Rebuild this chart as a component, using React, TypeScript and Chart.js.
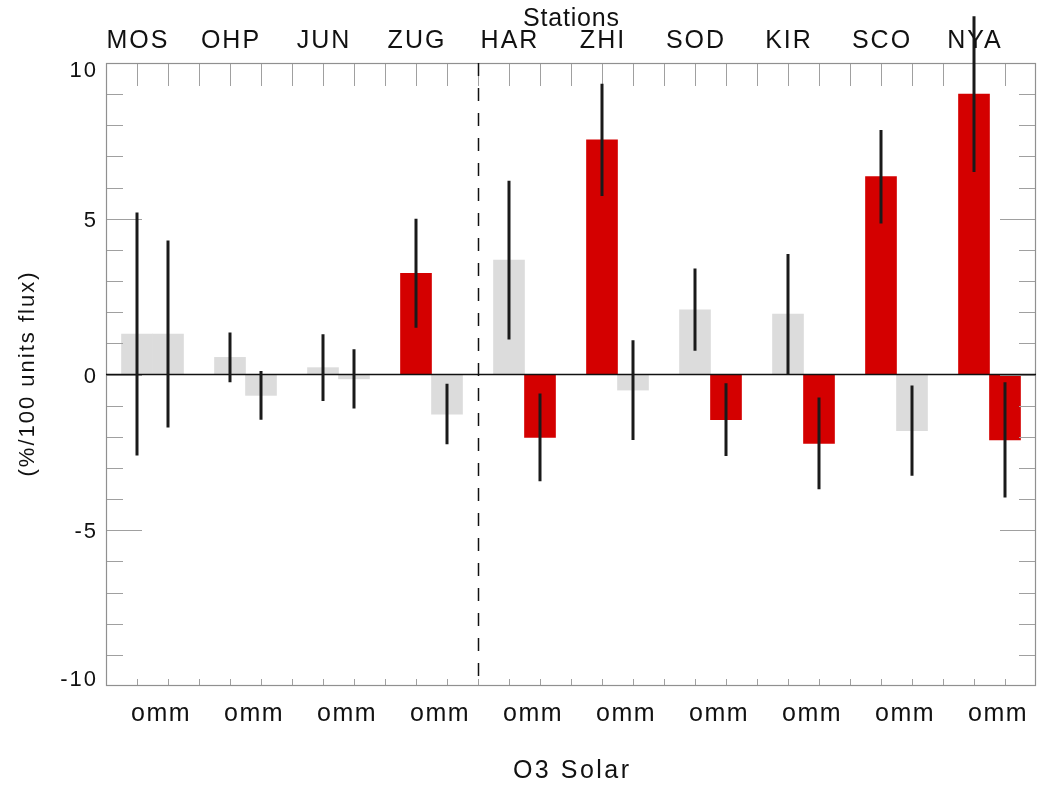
import React, { useEffect, useRef } from 'react';
import { Chart, registerables } from 'chart.js';

Chart.register(...registerables);

// ---- data ----
const stations = ['MOS', 'OHP', 'JUN', 'ZUG', 'HAR', 'ZHI', 'SOD', 'KIR', 'SCO', 'NYA'];
const bottomLabels = ['omm', 'omm', 'omm', 'omm', 'omm', 'omm', 'omm', 'omm', 'omm', 'omm'];
const firstValues = [1.3, 0.55, 0.22, 3.25, 3.67, 7.53, 2.08, 1.94, 6.35, 9.0];
const firstErrors = [3.9, 0.8, 1.07, 1.75, 2.55, 1.8, 1.32, 1.93, 1.5, 2.5];
const firstSignificant = [false, false, false, true, false, true, false, false, true, true];
const secondValues = [1.3, -0.67, -0.14, -1.27, -2.02, -0.5, -1.45, -2.21, -1.8, -2.1];
const secondErrors = [3.0, 0.78, 0.95, 0.97, 1.41, 1.6, 1.17, 1.47, 1.45, 1.85];
const secondSignificant = [false, false, false, false, true, false, true, true, false, true];
const yTickValues = [-10, -5, 0, 5, 10];
const yTickLabels = ['-10', '-5', '0', '5', '10'];
const yMin = -10;
const yMax = 10;
const xMin = 0;
const xMax = 30;
const slotsPerStation = 3;
const dividerAt = 12;
const topTitle = 'Stations';
const xTitle = 'O3 Solar';
const yTitle = '(%/100 units flux)';

const RED = '#d40000';
const GRAY = '#dcdcdc';
const FONT = '"Liberation Sans", Arial, sans-serif';

export default function App() {
  const ref = useRef<HTMLCanvasElement>(null);

  useEffect(() => {
    const canvas = ref.current;
    if (!canvas) return;

    const points: any[] = [];
    const colors: string[] = [];
    const errors: number[] = [];
    stations.forEach((_, i) => {
      points.push({ x: slotsPerStation * i + 1, y: firstValues[i] });
      colors.push(firstSignificant[i] ? RED : GRAY);
      errors.push(firstErrors[i]);
      points.push({ x: slotsPerStation * i + 2, y: secondValues[i] });
      colors.push(secondSignificant[i] ? RED : GRAY);
      errors.push(secondErrors[i]);
    });

    const text = (ctx: CanvasRenderingContext2D, s: string, x: number, y: number, size: number, spacing: number, align: CanvasTextAlign) => {
      ctx.save();
      ctx.font = `${size}px ${FONT}`;
      (ctx as any).letterSpacing = `${spacing}px`;
      ctx.fillStyle = '#111';
      ctx.textAlign = align;
      ctx.textBaseline = 'alphabetic';
      let xx = x;
      if (align === 'center') xx = x + spacing / 2;
      ctx.fillText(s, xx, y);
      ctx.restore();
    };

    const framePlugin = {
      id: 'idlFrame',
      afterDatasetsDraw(chart: any) {
        const ctx: CanvasRenderingContext2D = chart.ctx;
        const a = chart.chartArea;
        const xs = chart.scales.x;
        const ys = chart.scales.y;
        ctx.save();

        // ticks
        ctx.strokeStyle = '#a0a0a0';
        ctx.lineWidth = 1;
        ctx.beginPath();
        for (let v = xMin + 1; v < xMax; v++) {
          const px = Math.round(xs.getPixelForValue(v)) + 0.5;
          ctx.moveTo(px, a.top);
          ctx.lineTo(px, a.top + 23);
          ctx.moveTo(px, a.bottom);
          ctx.lineTo(px, a.bottom - 7);
        }
        for (let v = yMin + 1; v < yMax; v++) {
          const py = Math.round(ys.getPixelForValue(v)) + 0.5;
          const len = v % 5 === 0 ? 36 : 17;
          ctx.moveTo(a.left, py);
          ctx.lineTo(a.left + len, py);
          ctx.moveTo(a.right, py);
          ctx.lineTo(a.right - len, py);
        }
        ctx.stroke();

        // box
        ctx.strokeStyle = '#909090';
        ctx.lineWidth = 1.2;
        ctx.strokeRect(a.left + 0.5, a.top + 0.5, a.right - a.left - 1, a.bottom - a.top - 1);

        // zero line
        const y0 = ys.getPixelForValue(0);
        ctx.strokeStyle = '#111';
        ctx.lineWidth = 1.6;
        ctx.beginPath();
        ctx.moveTo(a.left, y0);
        ctx.lineTo(a.right, y0);
        ctx.stroke();

        // divider
        const xd = Math.round(xs.getPixelForValue(dividerAt)) + 0.5;
        ctx.setLineDash([13, 12]);
        ctx.lineWidth = 1.5;
        ctx.beginPath();
        ctx.moveTo(xd, a.top);
        ctx.lineTo(xd, a.bottom);
        ctx.stroke();
        ctx.setLineDash([]);

        // error bars
        ctx.strokeStyle = '#1a1a1a';
        ctx.lineWidth = 3;
        ctx.beginPath();
        points.forEach((p, i) => {
          const px = xs.getPixelForValue(p.x);
          ctx.moveTo(px, ys.getPixelForValue(p.y + errors[i]));
          ctx.lineTo(px, ys.getPixelForValue(p.y - errors[i]));
        });
        ctx.stroke();
        ctx.restore();

        // y tick labels
        yTickValues.forEach((v, i) => {
          const py = Math.min(Math.max(ys.getPixelForValue(v), a.top + 6), a.bottom - 8);
          text(ctx, yTickLabels[i], a.left - 8, py + 8, 22, 2, 'right');
        });
        // station labels
        stations.forEach((s, i) => {
          text(ctx, s, xs.getPixelForValue(slotsPerStation * i + 1), a.top - 15, 25, 2, 'center');
        });
        bottomLabels.forEach((s, i) => {
          text(ctx, s, xs.getPixelForValue(slotsPerStation * i + 1.75), a.bottom + 35, 25, 1.5, 'center');
        });
        const cx = (a.left + a.right) / 2;
        text(ctx, topTitle, cx, a.top - 37, 25, 0.8, 'center');
        text(ctx, xTitle, cx, a.bottom + 92, 25, 2.5, 'center');
        ctx.save();
        ctx.translate(34, (a.top + a.bottom) / 2);
        ctx.rotate(-Math.PI / 2);
        text(ctx, yTitle, 0, 0, 22, 2, 'center');
        ctx.restore();
      },
    };

    const chart = new Chart(canvas, {
      type: 'bar',
      data: {
        datasets: [
          {
            data: points,
            backgroundColor: colors,
            borderWidth: 0,
            barPercentage: 1,
            categoryPercentage: 1,
          } as any,
        ],
      },
      options: {
        responsive: false,
        animation: false,
        layout: { padding: { left: 106, top: 63, right: 2, bottom: 100 } },
        plugins: { legend: { display: false }, tooltip: { enabled: false } },
        scales: {
          x: { type: 'linear', min: xMin, max: xMax, display: false, offset: false },
          y: { type: 'linear', min: yMin, max: yMax, display: false },
        },
      },
      plugins: [framePlugin],
    });

    return () => chart.destroy();
  }, []);

  return (
    <div style={{ position: 'fixed', left: 0, top: 0, width: 1038, height: 786, background: '#fff' }}>
      <canvas ref={ref} width={1038} height={786} style={{ display: 'block' }} />
    </div>
  );
}
